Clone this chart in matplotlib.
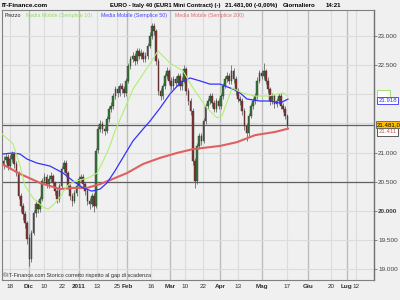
import matplotlib.pyplot as plt

plt.rcParams['font.family'] = ['Liberation Sans', 'DejaVu Sans']

# trading-day index, 0 = 18 Nov 2010
days = list(range(-3, 130))
opens = [20800, 20870, 20920, 20775, 20885, 20970, 20800, 20640, 20250, 20080,
         19950, 19790, 19530, 19180, 19630, 19960, 20125, 20030, 20210, 20510,
         20585, 20455, 20555, 20595, 20475, 20345, 20200, 20435, 20715, 20825,
         20645, 20435, 20250, 20175, 20300, 20435, 20545, 20585, 20455, 20345,
         20175, 20115, 20260, 20090, 21040, 21400, 21495, 21400, 21375, 21570,
         21755, 21795, 21975, 22085, 22025, 22140, 22095, 22015, 22235, 22480,
         22610, 22650, 22575, 22740, 22660, 22705, 22610, 22650, 22835, 22995,
         23175, 23080, 22575, 22050, 21975, 22140, 22320, 22395, 22235, 22140,
         22270, 22190, 22320, 22140, 22235, 22430, 22060, 21880, 21720, 20860,
         20510, 21120, 21280, 21205, 21535, 21805, 21880, 21975, 21845, 21755,
         21880, 21805, 21965, 22150, 22260, 22320, 22225, 22405, 22260, 22060,
         21915, 21890, 21710, 21460, 21330, 21635, 21795, 21890, 21965, 22235,
         22360, 22320, 22395, 22235, 22085, 21890, 21965, 21840, 21880, 21975,
         21795, 21755, 21625]
highs = [20950, 21000, 20980, 20960, 21030, 21010, 20850, 20680, 20300, 20130,
         20000, 19830, 19600, 19680, 20010, 20180, 20180, 20260, 20560, 20650,
         20630, 20610, 20670, 20640, 20520, 20400, 20480, 20770, 20880, 20870,
         20690, 20480, 20310, 20360, 20480, 20600, 20640, 20630, 20500, 20390,
         20230, 20310, 20300, 21080, 21450, 21560, 21550, 21450, 21620, 21800,
         21870, 22020, 22150, 22140, 22200, 22190, 22140, 22280, 22530, 22660,
         22720, 22700, 22800, 22790, 22770, 22750, 22720, 22880, 23060, 23230,
         23220, 23120, 22620, 22110, 22200, 22370, 22460, 22440, 22290, 22320,
         22320, 22370, 22370, 22290, 22500, 22470, 22110, 21930, 21760, 20900,
         21160, 21340, 21330, 21590, 21850, 21940, 22030, 22020, 21900, 21940,
         21930, 22020, 22200, 22320, 22380, 22370, 22500, 22450, 22310, 22110,
         21970, 21940, 21760, 21510, 21680, 21850, 21940, 22030, 22290, 22420,
         22420, 22540, 22440, 22290, 22130, 22030, 22010, 21940, 22030, 22020,
         21850, 21800, 21670]
lows = [20720, 20820, 20700, 20720, 20840, 20740, 20600, 20200, 19980, 19850,
        19700, 19430, 19050, 19130, 19580, 19900, 19960, 19980, 20170, 20460,
        20400, 20400, 20500, 20420, 20270, 20130, 20150, 20400, 20670, 20590,
        20370, 20190, 20090, 20130, 20250, 20390, 20490, 20400, 20280, 20100,
        20040, 20060, 19990, 20050, 20990, 21350, 21340, 21300, 21330, 21520,
        21700, 21750, 21920, 21960, 21970, 22030, 21950, 21970, 22190, 22430,
        22560, 22500, 22520, 22600, 22610, 22550, 22560, 22600, 22790, 22950,
        23020, 22500, 21990, 21900, 21920, 22090, 22270, 22170, 22080, 22090,
        22130, 22140, 22080, 22080, 22190, 21990, 21820, 21650, 20790, 20390,
        20460, 21070, 21130, 21160, 21490, 21750, 21830, 21790, 21690, 21700,
        21740, 21750, 21920, 22100, 22210, 22170, 22180, 22200, 21990, 21860,
        21820, 21650, 21390, 21200, 21290, 21590, 21740, 21840, 21920, 22190,
        22260, 22270, 22170, 22020, 21820, 21840, 21770, 21780, 21830, 21740,
        21690, 21570, 21420]
closes = [20860, 20925, 20770, 20890, 20975, 20805, 20650, 20255, 20085, 19945,
          19795, 19520, 19175, 19620, 19965, 20120, 20035, 20205, 20515, 20580,
          20460, 20550, 20600, 20480, 20340, 20205, 20430, 20720, 20820, 20650,
          20430, 20255, 20170, 20305, 20430, 20550, 20580, 20460, 20340, 20170,
          20120, 20255, 20085, 21030, 21405, 21490, 21405, 21370, 21575, 21750,
          21800, 21970, 22090, 22020, 22145, 22090, 22020, 22230, 22485, 22605,
          22655, 22570, 22745, 22655, 22710, 22605, 22655, 22830, 23000, 23170,
          23085, 22570, 22055, 21970, 22145, 22315, 22400, 22230, 22145, 22265,
          22195, 22315, 22145, 22230, 22435, 22055, 21885, 21715, 20855, 20515,
          21115, 21285, 21200, 21540, 21800, 21885, 21970, 21850, 21750, 21885,
          21800, 21970, 22145, 22265, 22315, 22230, 22400, 22265, 22055, 21920,
          21885, 21715, 21455, 21335, 21630, 21800, 21885, 21970, 22230, 22365,
          22315, 22400, 22230, 22090, 21885, 21970, 21835, 21885, 21970, 21800,
          21750, 21630, 21481]

ma10_days = [-3.7, 1.4, 4.7, 7.0, 10.7, 15.3, 17.7, 20.0, 23.3, 26.5, 30.2, 36.3,
             40.5, 43.3, 46.5, 48.8, 53.5, 57.2, 61.9, 66.5, 68.8, 74.4, 80.5,
             85.1, 91.6, 96.3, 98.6, 103.3, 107.9, 114, 120, 124.7, 127, 129.3]
ma10_vals = [21320, 21150, 20770, 20430, 20220, 20070, 20030, 20100, 20240, 20430,
             20510, 20565, 20650, 20855, 21115, 21370, 21765, 22090, 22350, 22605,
             22745, 22535, 22400, 22110, 21765, 21595, 21630, 22110, 22025, 21970,
             21970, 22005, 22025, 21970]
ma50_days = [-3.7, 1.4, 4.7, 7.9, 12.6, 18.6, 24.7, 29.3, 34.0, 38.1, 41.9, 45.1,
             48.8, 53.5, 57.2, 61.9, 65.1, 69.8, 74.4, 79.1, 83.7, 88.4, 93.0,
             97.7, 102.3, 106.0, 110.2, 116.3, 120.9, 125.6, 129.3]
ma50_vals = [20975, 20995, 20975, 20890, 20820, 20770, 20650, 20515, 20395, 20340,
             20375, 20480, 20685, 20975, 21200, 21405, 21540, 21765, 22005, 22195,
             22280, 22230, 22175, 22175, 22110, 22055, 21920, 21885, 21885, 21850,
             21918]
ma200_days = [-3.7, 4.7, 14.0, 23.3, 29.3, 35.8, 41.9, 47.9, 54.4, 61.9, 69.8,
              77.7, 85.1, 97.7, 105.6, 114, 123.3, 129.3]
ma200_vals = [20805, 20635, 20480, 20375, 20395, 20395, 20460, 20550, 20650, 20805,
              20910, 20995, 21060, 21115, 21180, 21300, 21355, 21411]

last_price = 21481
support = 20500

xtick_pos = [0, 8.8, 15.8, 24.2, 32.1, 40.5, 49.8, 54.4, 65.6, 74.4, 81.4, 89.8,
             97.7, 106, 117.2, 128.8, 138.6, 149.3, 156.7, 160.9]
xtick_lab = ['18', 'Dic', '10', '22', '2011', '13', '25', 'Feb', '16', 'Mar', '10',
             '22', 'Apr', '13', 'Mag', '17', 'Giu', '20', 'Lug', '12']
months = ['Dic', '2011', 'Feb', 'Mar', 'Apr', 'Mag', 'Giu', 'Lug']
ytick_vals = [23000, 22500, 21000, 20500, 20000, 19500, 19000]

ymin, ymax = 18816, 23446
bg = '#f0f0f0'
fig = plt.figure(figsize=(4, 3), dpi=100, facecolor=bg)
ax = fig.add_axes([0.005, 0.0667, 0.93, 0.9])
ax.set_facecolor(bg)
ax.set_xlim(-3.72, 169.3)
ax.set_ylim(ymin, ymax)

# grid
for p, lab in zip(xtick_pos, xtick_lab):
    if lab in months:
        ax.axvline(p, color='#bdbdbd', lw=1.0, zorder=0)
    else:
        ax.axvline(p, color='#dcdcdc', lw=0.8, zorder=0)
for v in range(19000, 23500, 500):
    ax.axhline(v, color='#dcdcdc', lw=0.8, zorder=0)
ax.axhline(last_price, color='#606060', lw=0.9, zorder=1)
ax.axhline(support, color='#606060', lw=0.9, zorder=1)

# candles
for d, o, h, l, c in zip(days, opens, highs, lows, closes):
    ax.vlines(d, l, h, color='#505050', lw=0.5, zorder=2)
    col = '#2f7d32' if c >= o else '#8c3030'
    ax.bar(d, max(abs(c - o), 15), bottom=min(o, c), width=0.75,
           color=col, edgecolor='#333333', lw=0.3, zorder=3)

ax.plot(ma200_days, ma200_vals, color='#e06060', lw=1.5, zorder=4)
ax.plot(ma50_days, ma50_vals, color='#3333ff', lw=0.9, zorder=4)
ax.plot(ma10_days, ma10_vals, color='#b0f070', lw=0.8, zorder=4)

# axes styling
for s in ['left', 'top', 'bottom']:
    ax.spines[s].set_color('#808080')
    ax.spines[s].set_linewidth(0.8)
ax.spines['right'].set_color('#707070')
ax.spines['right'].set_linewidth(1.0)
ax.yaxis.tick_right()
ax.set_yticks(ytick_vals)
ax.set_yticklabels([f"{v // 1000}.{v % 1000:03d}" for v in ytick_vals])
ax.tick_params(axis='y', length=2, width=0.6, color='#707070', pad=1,
               labelsize=4.6, labelcolor='#404040')
for t in ax.get_yticklabels():
    if t.get_text() == '20.000':
        t.set_fontweight('bold')
ax.set_xticks(xtick_pos)
ax.set_xticklabels(xtick_lab)
ax.tick_params(axis='x', length=0, pad=3, labelsize=4.6, labelcolor='#303030')
for t in ax.get_xticklabels():
    if t.get_text() in months:
        t.set_fontweight('bold')


def yfrac(v):
    return (v - ymin) / (ymax - ymin)


# value boxes on the right axis
ax.text(1.012, yfrac(22010), '      ', transform=ax.transAxes,
        fontsize=4.4, va='center', ha='left',
        bbox=dict(boxstyle='square,pad=0.2', fc='white', ec='#90e060', lw=0.6))
ax.text(1.012, yfrac(21918) - 0.006, '21.918', transform=ax.transAxes,
        fontsize=4.4, va='center', ha='left', color='#3333ff',
        bbox=dict(boxstyle='square,pad=0.2', fc='white', ec='#3333ff', lw=0.6))
ax.text(1.012, yfrac(21411) - 0.012, '21.411', transform=ax.transAxes,
        fontsize=4.4, va='center', ha='left', color='#e05050',
        bbox=dict(boxstyle='square,pad=0.2', fc='white', ec='#404040', lw=0.6))
ax.text(1.008, yfrac(last_price), '21.481,0', transform=ax.transAxes,
        fontsize=4.4, va='center', ha='left', color='black', clip_on=False,
        bbox=dict(boxstyle='square,pad=0.15', fc='#ffc000', ec='#606060', lw=0.6))

# header and legend
fig.text(0.005, 0.983, 'IT-Finance.com', fontsize=4.6, fontweight='bold', va='center')
fig.text(0.276, 0.983, 'EURO - Italy 40 (EUR1 Mini Contract) (-)', fontsize=4.2,
         fontweight='bold', va='center')
fig.text(0.562, 0.983, '21.481,00 (-0,00%)', fontsize=4.4, fontweight='bold', va='center')
fig.text(0.708, 0.983, 'Giornaliero', fontsize=4.4, fontweight='bold', va='center')
fig.text(0.815, 0.983, '14:21', fontsize=4.4, fontweight='bold', va='center')

ax.text(0.006, 0.988, 'Prezzo', transform=ax.transAxes, fontsize=3.8, va='top',
        color='#202020')
ax.text(0.065, 0.988, 'Media Mobile (Semplice 10)', transform=ax.transAxes,
        fontsize=3.8, va='top', color='#90e060')
ax.text(0.266, 0.988, 'Media Mobile (Semplice 50)', transform=ax.transAxes,
        fontsize=3.8, va='top', color='#4444ff')
ax.text(0.465, 0.988, 'Media Mobile (Semplice 200)', transform=ax.transAxes,
        fontsize=3.8, va='top', color='#e07070')
ax.text(0.004, 0.008, '\u00a9IT-Finance.com Storico corretto rispetto al gap di scadenza',
        transform=ax.transAxes, fontsize=3.95, va='bottom', color='#303030')

fig.savefig('out.png', dpi=100, facecolor=bg)
